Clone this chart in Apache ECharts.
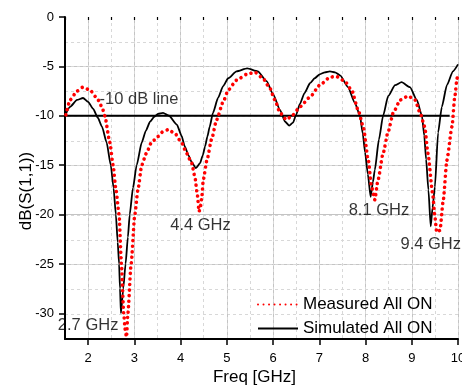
<!DOCTYPE html>
<html>
<head>
<meta charset="utf-8">
<script src="https://cdn.jsdelivr.net/npm/echarts@6/dist/echarts.min.js"></script>
<style>
html,body{margin:0;padding:0;background:#fff;overflow:hidden;}
#chart{width:462px;height:385px;}
</style>
</head>
<body>
<div id="chart"></div>
<script>
// Frequency (GHz) and dB values
var simFreq = [1.5,1.61,1.76,1.89,2.0,2.11,2.21,2.30,2.40,2.49,2.55,2.60,2.64,2.67,2.69,2.71,2.76,2.81,2.86,2.90,2.97,3.05,3.16,3.25,3.34,3.43,3.51,3.62,3.75,3.92,4.02,4.09,4.17,4.24,4.33,4.42,4.48,4.53,4.58,4.63,4.70,4.81,4.92,5.03,5.21,5.44,5.67,5.86,6.0,6.15,6.26,6.35,6.43,6.50,6.58,6.68,6.80,6.90,7.01,7.12,7.23,7.34,7.45,7.62,7.77,7.88,7.94,7.99,8.05,8.11,8.16,8.20,8.29,8.38,8.49,8.64,8.78,8.96,9.11,9.22,9.27,9.31,9.36,9.41,9.45,9.50,9.57,9.65,9.76,9.89,10.0];
var simDb   = [-10.0,-9.1,-8.4,-8.2,-8.6,-9.3,-10.2,-11.1,-12.7,-15.0,-17.3,-20.0,-22.8,-25.0,-27.5,-30.0,-27.5,-25.0,-22.3,-20.0,-17.3,-15.0,-12.7,-11.5,-10.6,-10.1,-9.8,-9.7,-10.0,-10.9,-12.0,-13.1,-14.0,-14.7,-15.3,-14.8,-14.0,-13.1,-12.1,-11.1,-9.7,-8.2,-7.0,-6.2,-5.5,-5.2,-5.5,-6.5,-7.8,-9.4,-10.6,-11.0,-10.7,-9.9,-8.8,-7.7,-6.7,-6.2,-5.8,-5.6,-5.5,-5.6,-5.9,-7.1,-8.7,-10.0,-11.8,-13.7,-15.9,-18.2,-16.7,-15.5,-12.4,-10.0,-8.0,-6.9,-6.6,-7.1,-8.4,-10.0,-12.0,-14.4,-17.5,-21.2,-19.3,-17.2,-11.7,-9.1,-6.9,-5.5,-4.8];

var measFreq = [1.52,1.61,1.76,1.89,2.04,2.19,2.30,2.36,2.47,2.54,2.60,2.67,2.72,2.77,2.80,2.83,2.86,2.93,3.01,3.08,3.16,3.26,3.37,3.51,3.62,3.73,3.88,4.03,4.13,4.24,4.31,4.36,4.40,4.43,4.46,4.49,4.57,4.67,4.78,4.92,5.03,5.21,5.43,5.61,5.78,5.93,6.04,6.15,6.29,6.43,6.58,6.80,7.01,7.23,7.36,7.55,7.70,7.84,7.95,8.06,8.13,8.20,8.27,8.38,8.49,8.60,8.75,8.92,9.07,9.18,9.28,9.35,9.45,9.50,9.54,9.61,9.68,9.76,9.87,9.93,9.98,10.0];
var measDb   = [-9.9,-8.4,-7.5,-7.1,-7.4,-8.2,-9.1,-10.0,-12.7,-15.0,-17.4,-20.0,-25.0,-30.0,-31.6,-32.4,-30.0,-25.0,-20.0,-17.4,-15.0,-13.8,-12.7,-12.1,-11.6,-11.4,-11.8,-12.8,-13.8,-14.8,-16.2,-17.9,-19.7,-19.2,-18.2,-16.5,-14.5,-12.4,-10.4,-8.6,-7.4,-6.4,-5.8,-5.6,-6.2,-7.2,-8.4,-9.7,-10.4,-9.9,-9.1,-8.1,-6.9,-6.1,-6.0,-6.5,-7.4,-9.4,-11.1,-14.5,-17.2,-18.5,-16.5,-13.8,-11.6,-9.7,-8.4,-8.0,-8.4,-9.7,-11.1,-13.8,-17.8,-20.2,-21.8,-21.6,-18.6,-14.5,-11.1,-8.1,-6.2,-5.8];

var refLineFreq = [1.5, 9.82];
var refLineDb = [-10, -10];

var xTicks = [2,3,4,5,6,7,8,9,10];
var yTicks = [0,-5,-10,-15,-20,-25,-30];

var seriesNames = ['Measured All ON', 'Simulated All ON'];
var annotText = ['-10 dB line', '2.7 GHz', '4.4 GHz', '8.1 GHz', '9.4 GHz'];
var annotFreq = [3.1, 2.0, 4.43, 8.29, 9.41];
var annotDb = [-8.3, -31.25, -21.1, -19.6, -23.05];

function zip(a, b){ return a.map(function(v,i){ return [v, b[i]]; }); }

var FONT = "'Liberation Sans', Arial, sans-serif";
var chart = echarts.init(document.getElementById('chart'), null, {renderer:'canvas'});

var option = {
  animation: false,
  backgroundColor: '#fff',
  textStyle: {fontFamily: FONT},
  grid: {left: 65, right: 4, top: 17, bottom: 46, containLabel: false, outerBoundsMode: 'none'},
  xAxis: [
    {
      type: 'value', min: 1.5, max: 10, splitNumber: 9,
      name: 'Freq [GHz]', nameLocation: 'middle', nameGap: 30, nameMoveOverlap: false,
      nameTextStyle: {fontSize: 17, color: '#000', fontFamily: FONT, padding: [0,14,0,0]},
      axisLine: {show: true, onZero: false, lineStyle: {color: '#000', width: 2}},
      axisTick: {show: true, length: 6, inside: false, lineStyle: {color: '#000', width: 1.5},
                 customValues: xTicks},
      axisLabel: {color: '#000', fontSize: 13, margin: 13, fontFamily: FONT, customValues: xTicks,
                  formatter: function(v){ return xTicks.indexOf(v) >= 0 ? String(v) : ''; }},
      splitLine: {show: true, lineStyle: {color: '#c4c4c4', width: 1}}
    },
    {
      type: 'value', min: 1.5, max: 10, interval: 0.5, position: 'bottom',
      axisLine: {show: false},
      axisTick: {show: true, length: 3, lineStyle: {color: '#000', width: 1.2}},
      axisLabel: {show: false},
      splitLine: {show: true, lineStyle: {color: '#d8d8d8', width: 1, type: [3, 3]}}
    }
  ],
  yAxis: [
    {
      type: 'value', min: -32.6, max: 0, splitNumber: 6,
      name: 'dB(S(1,1))', nameLocation: 'middle', nameGap: 30, nameMoveOverlap: false,
      nameTextStyle: {fontSize: 17, color: '#000', fontFamily: FONT, padding: [0,26,0,0]},
      axisLine: {show: true, onZero: false, lineStyle: {color: '#000', width: 2}},
      axisTick: {show: true, length: 6, lineStyle: {color: '#000', width: 1.5}, customValues: yTicks},
      axisLabel: {color: '#000', fontSize: 13, margin: 11, fontFamily: FONT, customValues: yTicks,
                  formatter: function(v){ return yTicks.indexOf(v) >= 0 ? String(v) : ''; }},
      splitLine: {show: true, showMaxLine: false, showMinLine: false, lineStyle: {color: '#c4c4c4', width: 1}}
    },
    {
      type: 'value', min: -32.5, max: 0, interval: 2.5, position: 'left',
      axisLine: {show: false}, axisTick: {show: false}, axisLabel: {show: false},
      splitLine: {show: true, showMaxLine: false, lineStyle: {color: '#d8d8d8', width: 1, type: [3, 3]}}
    }
  ],
  legend: {
    data: seriesNames,
    orient: 'vertical',
    left: 257, top: 296,
    itemWidth: 40, itemHeight: 14, itemGap: 7,
    itemStyle: {opacity: 0},
    textStyle: {fontSize: 17, color: '#000', fontFamily: FONT},
    padding: 0
  },
  series: [
    {
      name: '-10 dB', type: 'line', xAxisIndex: 0, yAxisIndex: 0,
      data: zip(refLineFreq, refLineDb), symbol: 'none', silent: true,
      lineStyle: {color: '#000', width: 2}, z: 2
    },
    {
      name: seriesNames[1], type: 'line', xAxisIndex: 0, yAxisIndex: 0,
      data: zip(simFreq, simDb), symbol: 'none', smooth: 0.2, smoothMonotone: 'x',
      lineStyle: {color: '#000', width: 1.8}, itemStyle: {color: '#000'}, z: 3
    },
    {
      name: seriesNames[0], type: 'line', xAxisIndex: 0, yAxisIndex: 0,
      data: zip(measFreq, measDb), symbol: 'none', smooth: 0.2, smoothMonotone: 'x',
      lineStyle: {color: '#ff0000', width: 3.6, type: [0.01, 5.5], cap: 'round'},
      itemStyle: {color: '#ff0000'}, z: 4
    },
    {
      name: 'annotations', type: 'scatter', xAxisIndex: 0, yAxisIndex: 0,
      data: annotText.map(function(t,i){ return {name: t, value: [annotFreq[i], annotDb[i]]}; }),
      symbolSize: 1, itemStyle: {color: 'rgba(0,0,0,0)'}, silent: true, z: 5,
      label: {show: true, position: 'inside', formatter: '{b}', color: '#000',
              fontSize: 16.5, fontFamily: FONT}
    }
  ]
};
chart.setOption(option);
</script>
</body>
</html>
